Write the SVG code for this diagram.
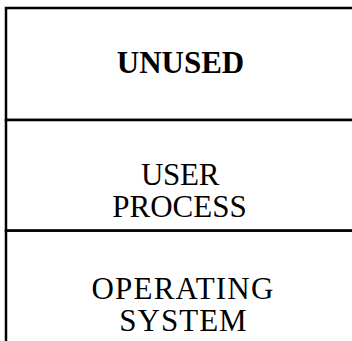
<svg xmlns="http://www.w3.org/2000/svg" width="352" height="341" viewBox="0 0 352 341">
  <style>
    .box { fill: #ffffff; stroke: #000000; stroke-width: 2.5; }
    .lbl { font-family: "Liberation Serif", "Times New Roman", serif; font-size: 31px; fill: #000000; text-anchor: middle; }
    .bold { font-weight: bold; }
  </style>
  <rect x="0" y="0" width="352" height="341" fill="#ffffff"/>
  <g id="unused">
    <rect class="box" x="6" y="8" width="360" height="112"/>
    <text class="lbl bold" x="180.5" y="72.5">UNUSED</text>
  </g>
  <g id="user-process">
    <rect class="box" x="6" y="120" width="360" height="110.7"/>
    <text class="lbl" x="180" y="184.5" letter-spacing="-0.3">USER</text>
    <text class="lbl" x="179.5" y="217">PROCESS</text>
  </g>
  <g id="operating-system">
    <rect class="box" x="6" y="230.7" width="360" height="130"/>
    <text class="lbl" x="183" y="298.5" letter-spacing="1.2">OPERATING</text>
    <text class="lbl" x="183.5" y="331" letter-spacing="1">SYSTEM</text>
  </g>
  <g id="connectors"></g>
</svg>
